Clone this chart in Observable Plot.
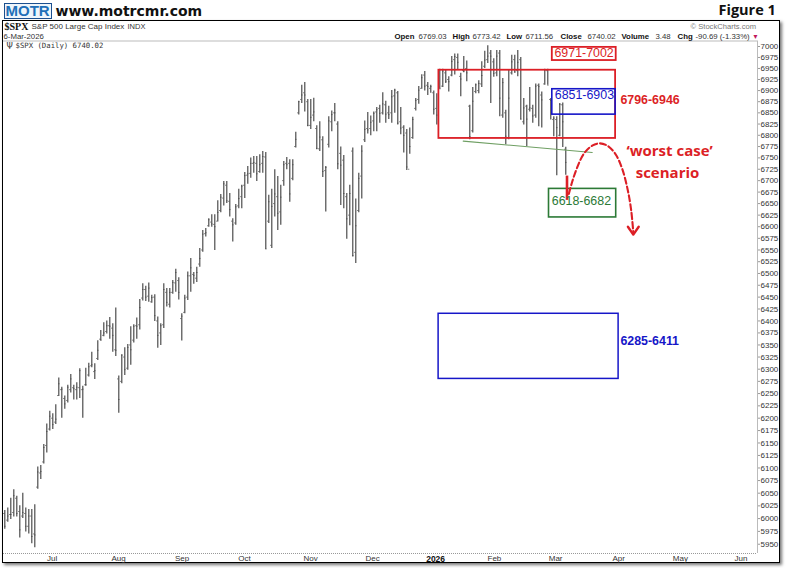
<!DOCTYPE html>
<html><head><meta charset="utf-8">
<script src="https://cdn.jsdelivr.net/npm/d3@7"></script>
<script src="https://cdn.jsdelivr.net/npm/@observablehq/plot@0.6"></script>
<style>
html,body{margin:0;padding:0;background:#fff}
#wrap{position:relative;width:786px;height:568px;overflow:hidden}
#frame{position:absolute;left:2px;top:20px;width:776px;height:541px;border:1.5px solid #000;box-shadow:2px 2px 3px #777;background:#fff}
#logo{position:absolute;left:4px;top:3px;width:46px;height:14px;border:1px solid #1b4f8f;background:#eef5fb}
#chart{position:absolute;left:0;top:0}
</style></head><body>
<div id="wrap"><div id="frame"></div><div id="logo"></div><div id="chart"></div></div>
<script>
const highs=[6016,6021,6040,6057,6044,6025,6050,6021,6018,6018,6027,6102,6105,6147,6188,6214,6209,6227,6282,6263,6245,6267,6289,6267,6272,6301,6265,6302,6312,6335,6311,6359,6380,6396,6400,6407,6394,6427,6286,6330,6344,6351,6388,6392,6406,6445,6478,6473,6480,6454,6455,6408,6394,6478,6468,6468,6485,6509,6491,6415,6454,6503,6532,6502,6513,6553,6592,6596,6617,6626,6626,6656,6670,6698,6698,6672,6617,6648,6681,6690,6718,6731,6750,6753,6753,6757,6764,6762,6668,6681,6724,6709,6690,6742,6751,6746,6746,6807,6876,6912,6918,6880,6880,6883,6821,6830,6797,6731,6841,6854,6871,6830,6774,6755,6672,6690,6772,6660,6716,6777,6832,6851,6843,6852,6862,6867,6895,6876,6865,6900,6903,6898,6862,6821,6813,6816,6840,6882,6909,6936,6943,6918,6912,6899,6893,6948,6948,6946,6931,6977,6983,6983,6939,6977,6967,6867,6907,6915,6922,6965,6989,7002,6991,6972,6991,6991,6927,6856,6946,6980,6980,6991,6975,6882,6867,6907,6867,6915,6915,6897,6948,6948,6882,6841,6841,6871,6872,6773.42];
const lows=[5979,5993,5998,6003,6003,5962,6000,5974,5970,5951,5943,6058,6077,6108,6130,6174,6177,6187,6244,6200,6218,6231,6251,6237,6237,6240,6200,6265,6284,6303,6279,6318,6358,6367,6373,6362,6335,6326,6210,6270,6287,6298,6308,6354,6362,6381,6442,6441,6439,6437,6399,6343,6349,6384,6429,6427,6456,6460,6444,6358,6415,6443,6460,6477,6481,6513,6545,6578,6599,6599,6549,6610,6630,6645,6650,6621,6567,6603,6639,6639,6661,6692,6705,6716,6698,6716,6716,6551,6607,6553,6621,6592,6603,6688,6724,6653,6700,6772,6845,6871,6852,6819,6813,6830,6768,6764,6707,6632,6772,6808,6830,6724,6646,6639,6573,6602,6535,6521,6630,6660,6784,6803,6799,6808,6808,6827,6845,6827,6835,6827,6849,6823,6801,6761,6722,6758,6791,6854,6869,6903,6899,6889,6894,6845,6823,6903,6907,6916,6897,6931,6935,6946,6886,6940,6920,6790,6805,6893,6893,6907,6950,6961,6871,6930,6931,6841,6838,6779,6790,6935,6939,6931,6834,6823,6775,6852,6827,6838,6819,6816,6912,6912,6834,6797,6711,6797,6773,6711.56];
const opens=[6010,5997,6008,6012,6040,6014,6005,6010,5985,6005,5970,6062,6090,6112,6145,6178,6200,6192,6246,6258,6240,6236,6258,6262,6258,6262,6258,6268,6288,6307,6295,6322,6362,6370,6378,6390,6385,6340,6280,6275,6325,6302,6350,6360,6390,6392,6448,6466,6452,6440,6450,6400,6375,6392,6460,6435,6460,6480,6485,6405,6418,6450,6495,6498,6490,6520,6550,6585,6602,6610,6605,6612,6635,6662,6690,6655,6612,6608,6645,6665,6690,6712,6716,6738,6738,6720,6738,6752,6612,6560,6650,6665,6632,6700,6738,6738,6705,6775,6850,6880,6895,6875,6822,6845,6815,6770,6790,6722,6780,6830,6850,6825,6760,6745,6665,6625,6765,6545,6635,6710,6790,6815,6815,6832,6852,6860,6850,6868,6850,6850,6888,6895,6830,6818,6805,6725,6795,6860,6880,6905,6935,6912,6905,6895,6860,6908,6910,6940,6925,6935,6970,6975,6932,6945,6950,6865,6810,6898,6900,6915,6955,6970,6985,6965,6940,6985,6845,6850,6795,6940,6970,6945,6970,6830,6865,6858,6860,6845,6912,6890,6915,6945,6880,6835,6835,6800,6868,6769.03];
const closes=[5985,6005,6008,6045,6010,5978,6012,5985,6005,5965,5968,6092,6093,6141,6173,6204,6187,6198,6270,6259,6229,6263,6280,6260,6263,6297,6259,6268,6305,6309,6297,6339,6360,6375,6390,6389,6370,6339,6238,6329,6299,6345,6340,6389,6389,6428,6466,6450,6469,6449,6411,6370,6390,6466,6439,6460,6481,6502,6460,6410,6448,6495,6512,6496,6502,6532,6584,6587,6615,6606,6600,6631,6664,6693,6656,6637,6604,6643,6661,6688,6711,6715,6738,6740,6715,6735,6753,6552,6654,6644,6671,6629,6664,6735,6735,6671,6735,6791,6875,6890,6890,6822,6840,6852,6771,6796,6720,6729,6832,6846,6850,6737,6734,6672,6617,6672,6538,6602,6705,6765,6813,6812,6829,6849,6857,6849,6870,6847,6846,6886,6901,6827,6816,6800,6730,6775,6835,6878,6901,6929,6910,6909,6909,6858,6845,6904,6944,6921,6920,6966,6977,6964,6926,6944,6940,6797,6876,6913,6916,6934,6969,6978,6978,6939,6978,6883,6918,6798,6883,6965,6942,6964,6836,6861,6836,6861,6843,6910,6909,6879,6946,6912,6878,6838,6817,6869,6830,6740.02];
const yTicks=[5950,5975,6000,6025,6050,6075,6100,6125,6150,6175,6200,6225,6250,6275,6300,6325,6350,6375,6400,6425,6450,6475,6500,6525,6550,6575,6600,6625,6650,6675,6700,6725,6750,6775,6800,6825,6850,6875,6900,6925,6950,6975,7000];
const monthLabels=["Jul","Aug","Sep","Oct","Nov","Dec","Feb","Mar","Apr","May","Jun"];
const monthBars=[15.8,37.9,59.1,79.9,101.9,122.6,163.2,183.6,204.6,225.2,245.4];
const yearBar=[143.6];
const bandRed=[6793,6946], bandBlue=[6846,6903], bandTop=[6968,6998], bandGreen=[6620,6682], bandLow=[6280,6415];
const trendX=[152.8,195.8], trendY=[6787,6762];
const curveX=[188.0,189.1,190.8,193.0,195.8,198.2,200.8,203.5,205.8,207.7,208.8,209.5];
const curveY=[6671,6697,6729,6759,6777,6782,6777,6759,6726,6678,6635,6588];
const headX=[207.7,209.5,211.3], headY=[6600,6583,6600];

const bars=highs.map((h,i)=>({i,h,l:lows[i],o:opens[i],c:closes[i]}));
const mL=3,mT=40.5,mR=29,mB=15;
const RED="#dc1f26",BLUE="#1616c8",GREEN="#2c7a36";
const hdr=(t,px,py,o={})=>Plot.text([t],{text:d=>d,frameAnchor:"top-left",dx:px-mL,dy:py-mT,textAnchor:"start",lineAnchor:"middle",fontSize:7.8,fill:"#333",...o});
const box=(x1,x2,b,c,w)=>Plot.rect([0],{x1:()=>x1,x2:()=>x2,y1:()=>b[0],y2:()=>b[1],fill:"none",stroke:c,strokeWidth:w});
const lab=(t,x,y,c,o={})=>Plot.text([t],{text:d=>d,x:()=>x,y:()=>y,fill:c,fontSize:12.4,...o});
const bold={fontWeight:"bold",fill:"#111"};

const chart=Plot.plot({
  width:786,height:568,marginLeft:mL,marginTop:mT,marginRight:mR,marginBottom:mB,
  style:{background:"transparent",fontFamily:"Liberation Sans, Arial, sans-serif"},
  x:{type:"linear",domain:[-0.44,250.9],range:[mL,757]},
  y:{type:"log",domain:[5932,7012.6],range:[553,mT]},
  marks:[
    Plot.ruleY([5932],{stroke:"#999",strokeDasharray:"1,1"}),
    Plot.ruleY([7012.6],{stroke:"#bbb"}),
    Plot.ruleX([250.9],{stroke:"#bbb"}),
    Plot.axisY(yTicks,{anchor:"right",label:null,tickSize:2,tickPadding:1,fontSize:8,stroke:"#999",color:"#333",tickFormat:d=>String(d)}),
    Plot.axisX(monthBars,{anchor:"bottom",label:null,tickSize:0,tickPadding:2,fontSize:8,color:"#333",tickFormat:(d,i)=>monthLabels[i]}),
    Plot.axisX(yearBar,{anchor:"bottom",label:null,tickSize:0,tickPadding:2,fontSize:8.5,fontWeight:"bold",fill:"#111",tickFormat:()=>"2026"}),
    Plot.ruleY(bars,{x1:d=>d.i-0.4,x2:d=>d.i,y:"o",stroke:"#444",strokeWidth:0.7}),
    Plot.ruleY(bars,{x1:d=>d.i,x2:d=>d.i+0.4,y:"c",stroke:"#444",strokeWidth:0.7}),
    Plot.ruleX(bars,{x:"i",y1:"l",y2:"h",stroke:"#333",strokeWidth:1.05}),
    Plot.line(trendX.map((x,i)=>({x,y:trendY[i]})),{x:"x",y:"y",stroke:"#6f9f63",strokeWidth:1.1}),
    box(144.7,203.6,bandRed,RED,1.8),
    box(182.5,203.6,bandBlue,BLUE,1.6),
    box(182.5,203.8,bandTop,RED,1.8),
    box(181.4,203.8,bandGreen,GREEN,1.6),
    box(144.6,204.6,bandLow,BLUE,1.5),
    Plot.ruleX([187.4],{y1:6710,y2:6657,stroke:RED,strokeWidth:2.6}),
    Plot.line(curveX.map((x,i)=>({x,y:curveY[i]})),{x:"x",y:"y",curve:"catmull-rom",stroke:RED,strokeWidth:2.1,strokeDasharray:"6,3"}),
    Plot.line(headX.map((x,i)=>({x,y:headY[i]})),{x:"x",y:"y",stroke:RED,strokeWidth:2.4}),
    lab("6971-7002",193.1,6984,RED),
    lab("6851-6903",193.2,6890,BLUE),
    lab("6618-6682",192.2,6655,GREEN),
    lab("6796-6946",205.2,6878,RED,{textAnchor:"start",fontWeight:"bold"}),
    lab("6285-6411",205.2,6359,BLUE,{textAnchor:"start",fontWeight:"bold"}),
    Plot.text(["‘worst case’"],{text:d=>d,x:()=>221.6,y:()=>6764,fill:RED,fontSize:15,fontWeight:"bold",fontFamily:"Open Sans"}),
    Plot.text(["scenario"],{text:d=>d,x:()=>220.9,y:()=>6716,fill:RED,fontSize:15,fontWeight:"bold",fontFamily:"Open Sans"}),
    hdr("MOTR",5,10.5,{fontSize:15,fontWeight:"bold",fill:"#1f6fb8"}),
    hdr("www.motrcmr.com",55,11,{fontSize:14,fontWeight:"bold",fill:"#111",fontFamily:"DejaVu Sans"}),
    hdr("Figure 1",718,10,{fontSize:14.5,fontWeight:"bold",fill:"#111",fontFamily:"Open Sans"}),
    hdr("$SPX",4,26,{fontSize:10,fontWeight:"bold",fill:"#111",fontFamily:"Liberation Serif"}),
    hdr("S&P 500 Large Cap Index",31,26,{fontSize:8}),
    hdr("INDX",127,26,{fontSize:7.5}),
    hdr("6-Mar-2026",3,35.5,{fontSize:7.8}),
    hdr("© StockCharts.com",690,26,{fontSize:7.6,fill:"#777"}),
    hdr("Ψ",6,45.5,{fontSize:8,fontFamily:"DejaVu Sans"}),
    hdr("$SPX (Daily) 6740.02",15,45.5,{fontSize:7.3,fontFamily:"DejaVu Sans Mono"}),
    hdr("Open",394,35.5,bold),
    hdr("6769.03",418,35.5),
    hdr("High",452,35.5,bold),
    hdr("6773.42",472,35.5),
    hdr("Low",506,35.5,bold),
    hdr("6711.56",525,35.5),
    hdr("Close",560,35.5,bold),
    hdr("6740.02",587,35.5),
    hdr("Volume",621,35.5,bold),
    hdr("3.48",655,35.5),
    hdr("Chg",677,35.5,bold),
    hdr("-90.69 (-1.33%)",695,35.5),
    hdr("▾",753,35.5,{fill:"#c2185b",fontFamily:"DejaVu Sans"})
  ]
});
document.getElementById("chart").appendChild(chart);
</script>
</body></html>
